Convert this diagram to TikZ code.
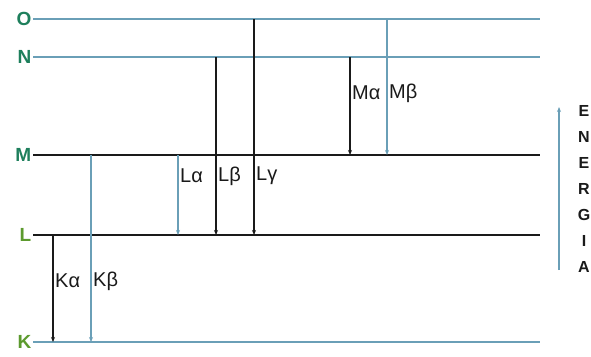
\documentclass[tikz,border=0pt]{standalone}
\usepackage{fontspec}
\setmainfont{Liberation Sans}
\usepackage{xcolor}
\usetikzlibrary{arrows.meta,calc}

\begin{document}
\begin{tikzpicture}[x=1pt,y=-1pt]

	% ============================================================
	% COLORS
	% ============================================================
	\definecolor{text}{HTML}{1A1A1A}
	\definecolor{shellBlue}{HTML}{6A9FB7}
	\definecolor{greenDark}{HTML}{1E7F5C}
	\definecolor{greenLight}{HTML}{5C9A2E}

	% ============================================================
	% STYLES
	% ============================================================
	\tikzset{
		lvlLbl/.style={font=\bfseries\fontsize{19}{21}\selectfont,inner sep=1.5pt,anchor=east},
		blueLvl/.style={draw=shellBlue,line width=1.5pt},
		blackLvl/.style={draw=text,line width=2pt},
		trans/.style={-{Stealth[length=5pt,width=4pt]},line width=1.2pt},
		blueTrans/.style={trans,draw=shellBlue},
		blackTrans/.style={trans,draw=text},
		trLbl/.style={font=\fontsize{20}{22}\selectfont,text=text,inner sep=1pt,anchor=west},
		nrgLbl/.style={font=\bfseries\fontsize{16}{18}\selectfont,text=text,inner sep=0pt}
	}

	\useasboundingbox (0,0) rectangle (591,356);

	% ============================================================
	% SHELLS - K L M N O
	% ============================================================
	% Rows: y=19 (O), 57 (N), 155 (M), 235 (L), 342 (K)
	\foreach \shell/\y/\col/\sty in {O/19/greenDark/blueLvl, N/57/greenDark/blueLvl,
		M/155/greenDark/blackLvl, L/235/greenLight/blackLvl, K/342/greenLight/blueLvl}{
		\coordinate (\shell w) at (33,\y);
		\coordinate (\shell e) at (540,\y);
		\node[lvlLbl,text=\col] (lbl\shell) at (\shell w) {\shell};
		\draw[\sty] (\shell w) -- (\shell e);
	}

	% ============================================================
	% TRANSITION COLUMNS
	% ============================================================
	\coordinate (Ka) at (53,0);
	\coordinate (Kb) at (91,0);
	\coordinate (La) at (178,0);
	\coordinate (Lb) at (216,0);
	\coordinate (Lg) at (254,0);
	\coordinate (Ma) at (350,0);
	\coordinate (Mb) at (387,0);

	% ============================================================
	% ARROWS - K SERIES
	% ============================================================
	\draw[blackTrans] (Ka |- Lw) -- (Ka |- Kw);
	\draw[blueTrans]  (Kb |- Mw) -- (Kb |- Kw);

	% ============================================================
	% ARROWS - L SERIES
	% ============================================================
	\draw[blueTrans]  (La |- Mw) -- (La |- Lw);
	\draw[blackTrans] (Lb |- Nw) -- (Lb |- Lw);
	\draw[blackTrans] (Lg |- Ow) -- (Lg |- Lw);

	% ============================================================
	% ARROWS - M SERIES
	% ============================================================
	\draw[blackTrans] (Ma |- Nw) -- (Ma |- Mw);
	\draw[blueTrans]  (Mb |- Ow) -- (Mb |- Mw);

	% ============================================================
	% LINE LABELS
	% ============================================================
	\node[trLbl] (lblKa) at (54,281) {Kα};
	\node[trLbl] (lblKb) at (92,281) {Kβ};
	\node[trLbl] (lblLa) at (179,176) {Lα};
	\node[trLbl] (lblLb) at (217,176) {Lβ};
	\node[trLbl] (lblLg) at (255,176) {Lγ};
	\node[trLbl] (lblMa) at (351,93) {Mα};
	\node[trLbl] (lblMb) at (388,93) {Mβ};

	% ============================================================
	% ENERGY AXIS
	% ============================================================
	\coordinate (nrgLow) at (559,270);
	\coordinate (nrgHigh) at (559,107);
	\draw[blueTrans] (nrgLow) -- (nrgHigh);
	\foreach \ch [count=\i from 0] in {E,N,E,R,G,I,A}{
		\node[nrgLbl] (nrg\i) at (584,{111+26*\i}) {\ch};
	}

\end{tikzpicture}
\end{document}
